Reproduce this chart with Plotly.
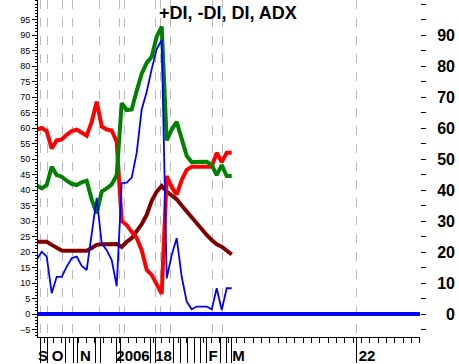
import plotly.graph_objects as go

# ---- data (index = bar number) ----
idx = list(range(40))
minus_di = [59.5, 60, 59, 53.4, 56, 56.3, 57.8, 59, 59.5, 58.5, 57.5, 62, 68.5, 60.5, 59.5, 59.2,
            55.6, 30, 28.7, 26.5, 24.5, 20.6, 14.2, 12.6, 9.5, 6.5, 44.5, 41, 38.5, 43.2,
            46.5, 47.5, 47.5, 47.5, 47.5, 47.5, 52, 49, 52, 52]
plus_di = [41.5, 40.5, 41.6, 47.5, 44.8, 44.3, 43, 42, 41.6, 42.5, 43, 37, 32.5, 39.5, 40.5, 41.8,
           44.8, 68, 65.8, 66, 72, 77.5, 81, 83, 89.5, 92.7, 56, 59.5, 62, 56,
           51, 49, 49.1, 49.1, 49.1, 48.1, 44.8, 48, 44.5, 44.5]
di = [17.5, 20.1, 18.5, 6.7, 12, 12, 15.3, 18, 18.5, 15.5, 14.2, 26, 37.5, 22.8, 20.6, 17.4,
      9, 42.2, 42.4, 44, 52, 66, 71.7, 79, 85.5, 88.4, 11.5, 19, 24.5, 12,
      4, 1.5, 2.4, 2.4, 2.4, 1.5, 8.3, 1.3, 8.3, 8.3]
adx = [23.3, 23.3, 23.3, 22.3, 21.3, 20.5, 20.4, 20.4, 20.4, 20.4, 20.4, 21.3, 22.3, 22.5, 22.6, 22.6,
       22.6, 21.6, 23.3, 24.5, 26.5, 29, 32, 36.5, 39.5, 41.3, 39.5, 38.2, 37, 35,
       33, 31.2, 29.5, 27.5, 25.5, 23.9, 22.5, 21.7, 20.5, 19.2]

x_label_pos = [1.26, 4.16, 9.76, 19.26, 25.36, 35.26, 40.36, 66.06]
x_label_text = ["S", "O", "N", "2006", "18", "F", "M", "22"]
grid_pos = [0.66, 2.12, 5.12, 7.12, 12.52, 16.52, 17.52, 23.72, 24.72, 26.72, 35.12, 37.12, 63.86]
tall_tick_pos = [0.66, 2.12, 5.66, 7.26, 8.06, 11.66, 12.66, 15.86, 16.66, 22.66, 23.66, 27.26,
                 28.66, 30.06, 31.46, 32.66, 33.86, 36.66, 37.86, 38.86, 63.86]
left_ticks = list(range(-5, 100, 5))
right_ticks = list(range(0, 100, 10))
right_text = ["\u2007" + str(v) if v < 10 else str(v) for v in right_ticks]

XR = [0.26, 76.66]
YR = [-7.42, 101.3]

fig = go.Figure()
fig.add_trace(go.Scatter(x=idx, y=adx, mode="lines", line=dict(color="#800000", width=4), name="ADX"))
fig.add_trace(go.Scatter(x=idx, y=minus_di, mode="lines", line=dict(color="#FF0000", width=4), name="-DI"))
fig.add_trace(go.Scatter(x=idx, y=plus_di, mode="lines", line=dict(color="#008000", width=4), name="+DI"))
fig.add_trace(go.Scatter(x=idx, y=di, mode="lines", line=dict(color="#0000FF", width=1.8), name="DI"))
fig.add_hline(y=0, line=dict(color="#0000FF", width=4))

fig.update_layout(
    width=459, height=364,
    margin=dict(l=38, r=39, t=0, b=27),
    plot_bgcolor="white", paper_bgcolor="white",
    showlegend=False,
    font=dict(family="Liberation Sans, Arial", color="black"),
    xaxis=dict(
        range=XR, showgrid=False, zeroline=False, automargin=False,
        showline=True, linecolor="black", linewidth=1,
        tickmode="array", tickvals=x_label_pos, ticktext=x_label_text,
        ticks="", tickfont=dict(size=15, family="Liberation Sans", color="black", weight="bold"),
        ticklabelstandoff=5,
        minor=dict(ticks="outside", dtick=1.667, tick0=1.63, ticklen=5, tickcolor="black", showgrid=False),
    ),
    xaxis2=dict(
        range=XR, overlaying="x", anchor="y", side="bottom", automargin=False,
        tickmode="array", tickvals=tall_tick_pos, ticks="outside", ticklen=25,
        tickcolor="black", tickwidth=1, showticklabels=False,
        showgrid=False, zeroline=False, showline=False,
    ),
    xaxis3=dict(
        range=XR, overlaying="x", anchor="y", side="bottom", automargin=False,
        tickmode="array", tickvals=grid_pos, ticks="", showticklabels=False,
        showgrid=True, gridcolor="#BBBBBB", griddash="dash", gridwidth=1,
        zeroline=False, showline=False,
    ),
    yaxis=dict(
        range=YR, showgrid=False, zeroline=False, automargin=False,
        showline=True, linecolor="black", linewidth=1,
        tickmode="array", tickvals=left_ticks, ticks="outside", ticklen=5, tickcolor="black",
        tickfont=dict(size=9, family="Liberation Sans", color="black"),
        minor=dict(ticks="outside", dtick=1, ticklen=2, tickcolor="black"),
    ),
    yaxis2=dict(
        range=YR, overlaying="y", side="right", anchor="x", automargin=False,
        showgrid=False, zeroline=False, showline=False,
        tickmode="array", tickvals=right_ticks, ticktext=right_text,
        ticks="outside", ticklen=5, tickcolor="black",
        tickfont=dict(size=16, family="Liberation Sans", color="black", weight="bold"),
        ticklabelstandoff=8,
        minor=dict(ticks="outside", dtick=5, ticklen=5, tickcolor="black"),
    ),
)
# dummy traces to activate overlay axes
fig.add_trace(go.Scatter(x=[None], y=[None], xaxis="x2", yaxis="y", showlegend=False, hoverinfo="skip"))
fig.add_trace(go.Scatter(x=[None], y=[None], xaxis="x3", yaxis="y", showlegend=False, hoverinfo="skip"))
fig.add_trace(go.Scatter(x=[None], y=[None], xaxis="x", yaxis="y2", showlegend=False, hoverinfo="skip"))

fig.add_annotation(
    text="+DI, -DI, DI, ADX", xref="paper", yref="paper", x=0.3115, y=0.961,
    xanchor="left", yanchor="middle", showarrow=False,
    font=dict(size=18, family="Liberation Sans", color="black", weight="bold"),
)

fig.write_html("out.html", config={"displayModeBar": False},
               post_script="document.body.style.margin='0';document.body.style.overflow='hidden';")
